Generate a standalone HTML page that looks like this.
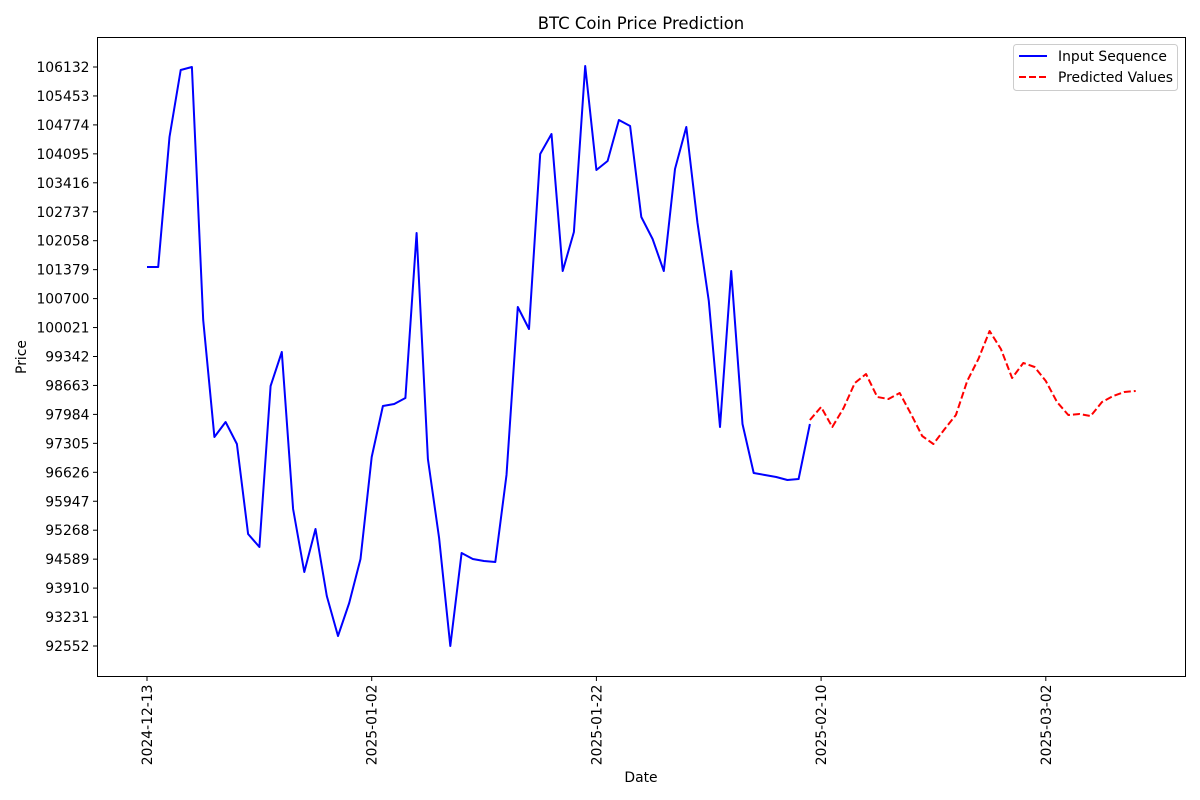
<!DOCTYPE html>
<html><head><meta charset="utf-8">
<style>
html,body{margin:0;padding:0;background:#fff;}
svg{display:block;font-family:"DejaVu Sans","Liberation Sans",sans-serif;}
</style></head>
<body>
<svg id="chart" width="1200" height="800" viewBox="0 0 1200 800"></svg>
<script>
const inputValues=[101441,101441,104490,106062,106132,100198,97454,97806,97290,95179,94874,98650,99447,95765,94288,95296,93725,92787,93561,94592,96985,98181,98228,98369,102239,96938,95085,92552,94733,94592,94546,94522,96563,100503,99987,104091,104560,101347,102262,106155,103716,103927,104889,104748,102614,102098,101347,103740,104725,102473,100644,97688,101347,97759,96610,96563,96516,96445,96469,97759];
const predictedValues=[97853,98158,97688,98134,98720,98931,98392,98345,98486,97993,97477,97290,97642,97970,98767,99283,99940,99518,98838,99189,99096,98767,98275,97970,97993,97946,98275,98416,98509,98533];
const predictedStart=59;
const yTicks=[92552,93231,93910,94589,95268,95947,96626,97305,97984,98663,99342,100021,100700,101379,102058,102737,103416,104095,104774,105453,106132];
const xTickIdx=[0,20,40,60,80];
const xTickLabels=["2024-12-13","2025-01-02","2025-01-22","2025-02-10","2025-03-02"];

const L=97.5,R=1185.5,T=37.5,B=676.5;
const x=i=>147+i*11.235;
const y=v=>646-(v-92552)/679*28.95;
const svg=document.getElementById('chart');
const NS='http://www.w3.org/2000/svg';
function mk(tag,attrs,parent){const e=document.createElementNS(NS,tag);for(const k in attrs)e.setAttribute(k,attrs[k]);(parent||svg).appendChild(e);return e;}

const title=mk('text',{x:641,y:29,'text-anchor':'middle','font-size':16.5,fill:'#000'});
title.textContent='BTC Coin Price Prediction';



const yt=mk('g',{});


yTicks.forEach(v=>{
  const yy=y(v);
  mk('line',{x1:L-4.5,x2:L,y1:yy,y2:yy,stroke:'#000','stroke-width':1},yt);
  const t=mk('text',{x:L-8,y:yy+5,'text-anchor':'end','font-size':13.9,fill:'#000'},yt);
  t.textContent=v;
  
  
});
const xt=mk('g',{});


xTickIdx.forEach((i,k)=>{
  const xx=x(i);
  mk('line',{x1:xx,x2:xx,y1:B,y2:B+4.5,stroke:'#000','stroke-width':1},xt);
  const t=mk('text',{x:0,y:0,'text-anchor':'end','font-size':13.9,fill:'#000',transform:`translate(${xx+5},${B+8}) rotate(-90)`},xt);
  t.textContent=xTickLabels[k];
  
  
});

const xl=mk('text',{x:641,y:782,'text-anchor':'middle','font-size':13.9,fill:'#000'});
xl.textContent='Date';


const yl=mk('text',{x:0,y:0,'text-anchor':'middle','font-size':13.9,fill:'#000',transform:'translate(26,357) rotate(-90)'});
yl.textContent='Price';



const inPts=inputValues.map((v,i)=>x(i).toFixed(1)+','+y(v).toFixed(1)).join(' ');
const l1=mk('polyline',{points:inPts,fill:'none',stroke:'#0000ff','stroke-width':2,'stroke-linejoin':'round'});


const prPts=predictedValues.map((v,i)=>x(i+predictedStart).toFixed(1)+','+y(v).toFixed(1)).join(' ');
const l2=mk('polyline',{points:prPts,fill:'none',stroke:'#ff0000','stroke-width':2,'stroke-dasharray':'7,3','stroke-linejoin':'round'});



const frame=mk('rect',{x:L,y:T,width:R-L,height:B-T,fill:'none',stroke:'#000','stroke-width':1});



const lg=mk('g',{});


mk('rect',{x:1013.5,y:44.5,width:164,height:46,rx:3,fill:'#fff',stroke:'#ccc','stroke-width':1},lg);
mk('line',{x1:1019,x2:1047,y1:56,y2:56,stroke:'#0000ff','stroke-width':2},lg);
const e1=mk('text',{x:1058,y:61,'font-size':13.9,fill:'#000'},lg);
e1.textContent='Input Sequence';


mk('line',{x1:1019,x2:1047,y1:77,y2:77,stroke:'#ff0000','stroke-width':2,'stroke-dasharray':'7,3'},lg);
const e2=mk('text',{x:1058,y:82,'font-size':13.9,fill:'#000'},lg);
e2.textContent='Predicted Values';


</script>
</body></html>
